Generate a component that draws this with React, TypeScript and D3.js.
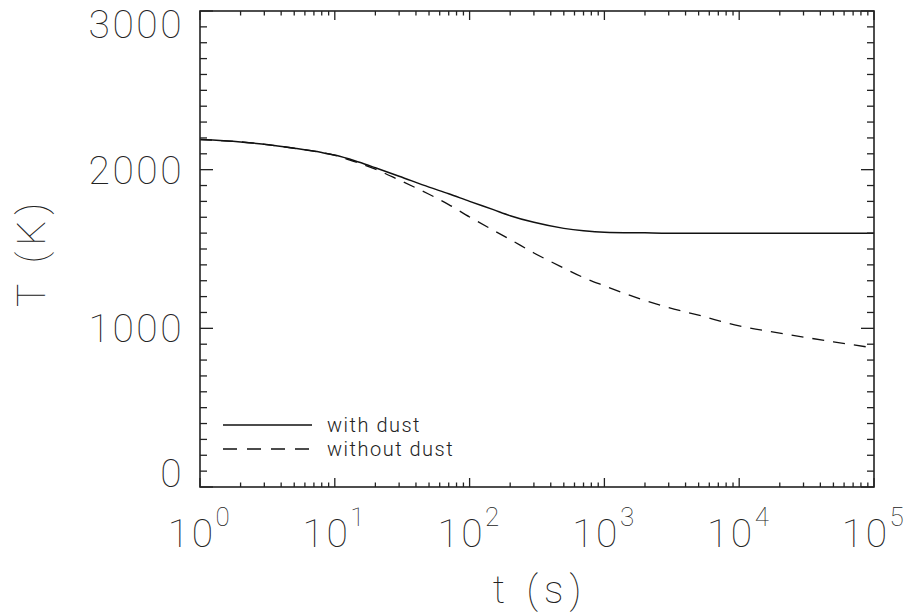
import React from "react";
import * as d3 from "d3";

const times = [1, 2, 3, 5, 8, 10, 15, 20, 30, 50, 70, 100, 150, 200, 300, 500, 700, 1000, 2000, 3000, 5000, 1e4, 2e4, 3e4, 5e4, 1e5];
const withDust = [2190, 2175, 2160, 2135, 2108, 2092, 2048, 2012, 1959, 1890, 1848, 1800, 1748, 1710, 1668, 1630, 1615, 1606, 1602, 1600, 1600, 1600, 1600, 1600, 1600, 1600];
const withoutDust = [2190, 2175, 2160, 2135, 2108, 2090, 2042, 2003, 1935, 1845, 1780, 1702, 1618, 1560, 1475, 1380, 1320, 1268, 1175, 1130, 1083, 1015, 970, 945, 915, 876];
const xDomain = [1, 1e5];
const yDomain = [0, 3000];
const yTickLabels = [0, 1000, 2000, 3000];
const xTickExponents = [0, 1, 2, 3, 4, 5];
const legendLabels = ["with dust", "without dust"];

const W = 914, H = 615;
const L = 200, R = 874, T = 11, B = 487;
const FONT = "Roboto, 'DejaVu Sans', sans-serif";
const FW = 100;
const INK = "#111";
const TXT = "#222";

export default function App() {
  const x = d3.scaleLog().domain(xDomain).range([L, R]);
  const y = d3.scaleLinear().domain(yDomain).range([B, T]);
  const line = d3
    .line<number>()
    .x((_, i) => x(times[i]))
    .y((d) => y(d))
    .curve(d3.curveMonotoneX);

  const xt = x.ticks();
  const yt = y.ticks(30);
  const isMajorX = (v: number) => Math.abs(Math.log10(v) - Math.round(Math.log10(v))) < 1e-9;

  return (
    <svg width={W} height={H} style={{ position: "absolute", left: 0, top: 0, background: "#fff" }}>
      <path d={line(withDust) || ""} fill="none" stroke={INK} strokeWidth={1.5} />
      <path d={line(withoutDust) || ""} fill="none" stroke={INK} strokeWidth={1.3} strokeDasharray="12,9" />

      <rect x={L} y={T} width={R - L} height={B - T} fill="none" stroke="#222" strokeWidth={1.6} />

      {xt.map((v, i) => {
        const len = isMajorX(v) ? 9 : 4.5;
        const px = x(v);
        return (
          <g key={"xt" + i}>
            <line x1={px} x2={px} y1={B} y2={B - len} stroke="#222" strokeWidth={1.3} />
            <line x1={px} x2={px} y1={T} y2={T + len} stroke="#222" strokeWidth={1.3} />
          </g>
        );
      })}
      {yt.map((v, i) => {
        const len = v % 1000 === 0 ? 13 : 7;
        const py = y(v);
        return (
          <g key={"yt" + i}>
            <line x1={L} x2={L + len} y1={py} y2={py} stroke="#222" strokeWidth={1.3} />
            <line x1={R} x2={R - len} y1={py} y2={py} stroke="#222" strokeWidth={1.3} />
          </g>
        );
      })}

      {yTickLabels.map((v) => {
        const base = Math.min(B, Math.max(T + 27, y(v) + 14));
        return (
          <text key={"yl" + v} x={184} y={base} textAnchor="end" fontFamily={FONT} fontWeight={FW} fontSize={39} letterSpacing={2.5} fill={TXT}>
            {v}
          </text>
        );
      })}

      {xTickExponents.map((e) => (
        <text key={"xl" + e} x={x(Math.pow(10, e))} y={547} textAnchor="middle" fontFamily={FONT} fontWeight={FW} fontSize={39} letterSpacing={2.5} fill={TXT}>
          10
          <tspan dy={-21} fontSize={26}>{e}</tspan>
        </text>
      ))}

      <text x={(L + R) / 2 + 3} y={603} textAnchor="middle" fontFamily={FONT} fontWeight={FW} fontSize={39} letterSpacing={6} fill={TXT}>
        t (s)
      </text>
      <text transform={`translate(45,${(T + B) / 2 + 3}) rotate(-90)`} textAnchor="middle" fontFamily={FONT} fontWeight={FW} fontSize={39} letterSpacing={6} fill={TXT}>
        T (K)
      </text>

      <line x1={223} x2={312} y1={425} y2={425} stroke={INK} strokeWidth={1.5} />
      <text x={327} y={432} fontFamily={FONT} fontWeight={300} fontSize={20} fill={TXT} letterSpacing={1.5}>
        {legendLabels[0]}
      </text>
      <line x1={223} x2={312} y1={449} y2={449} stroke={INK} strokeWidth={1.3} strokeDasharray="14,10" />
      <text x={327} y={456} fontFamily={FONT} fontWeight={300} fontSize={20} fill={TXT} letterSpacing={1.5}>
        {legendLabels[1]}
      </text>
    </svg>
  );
}
